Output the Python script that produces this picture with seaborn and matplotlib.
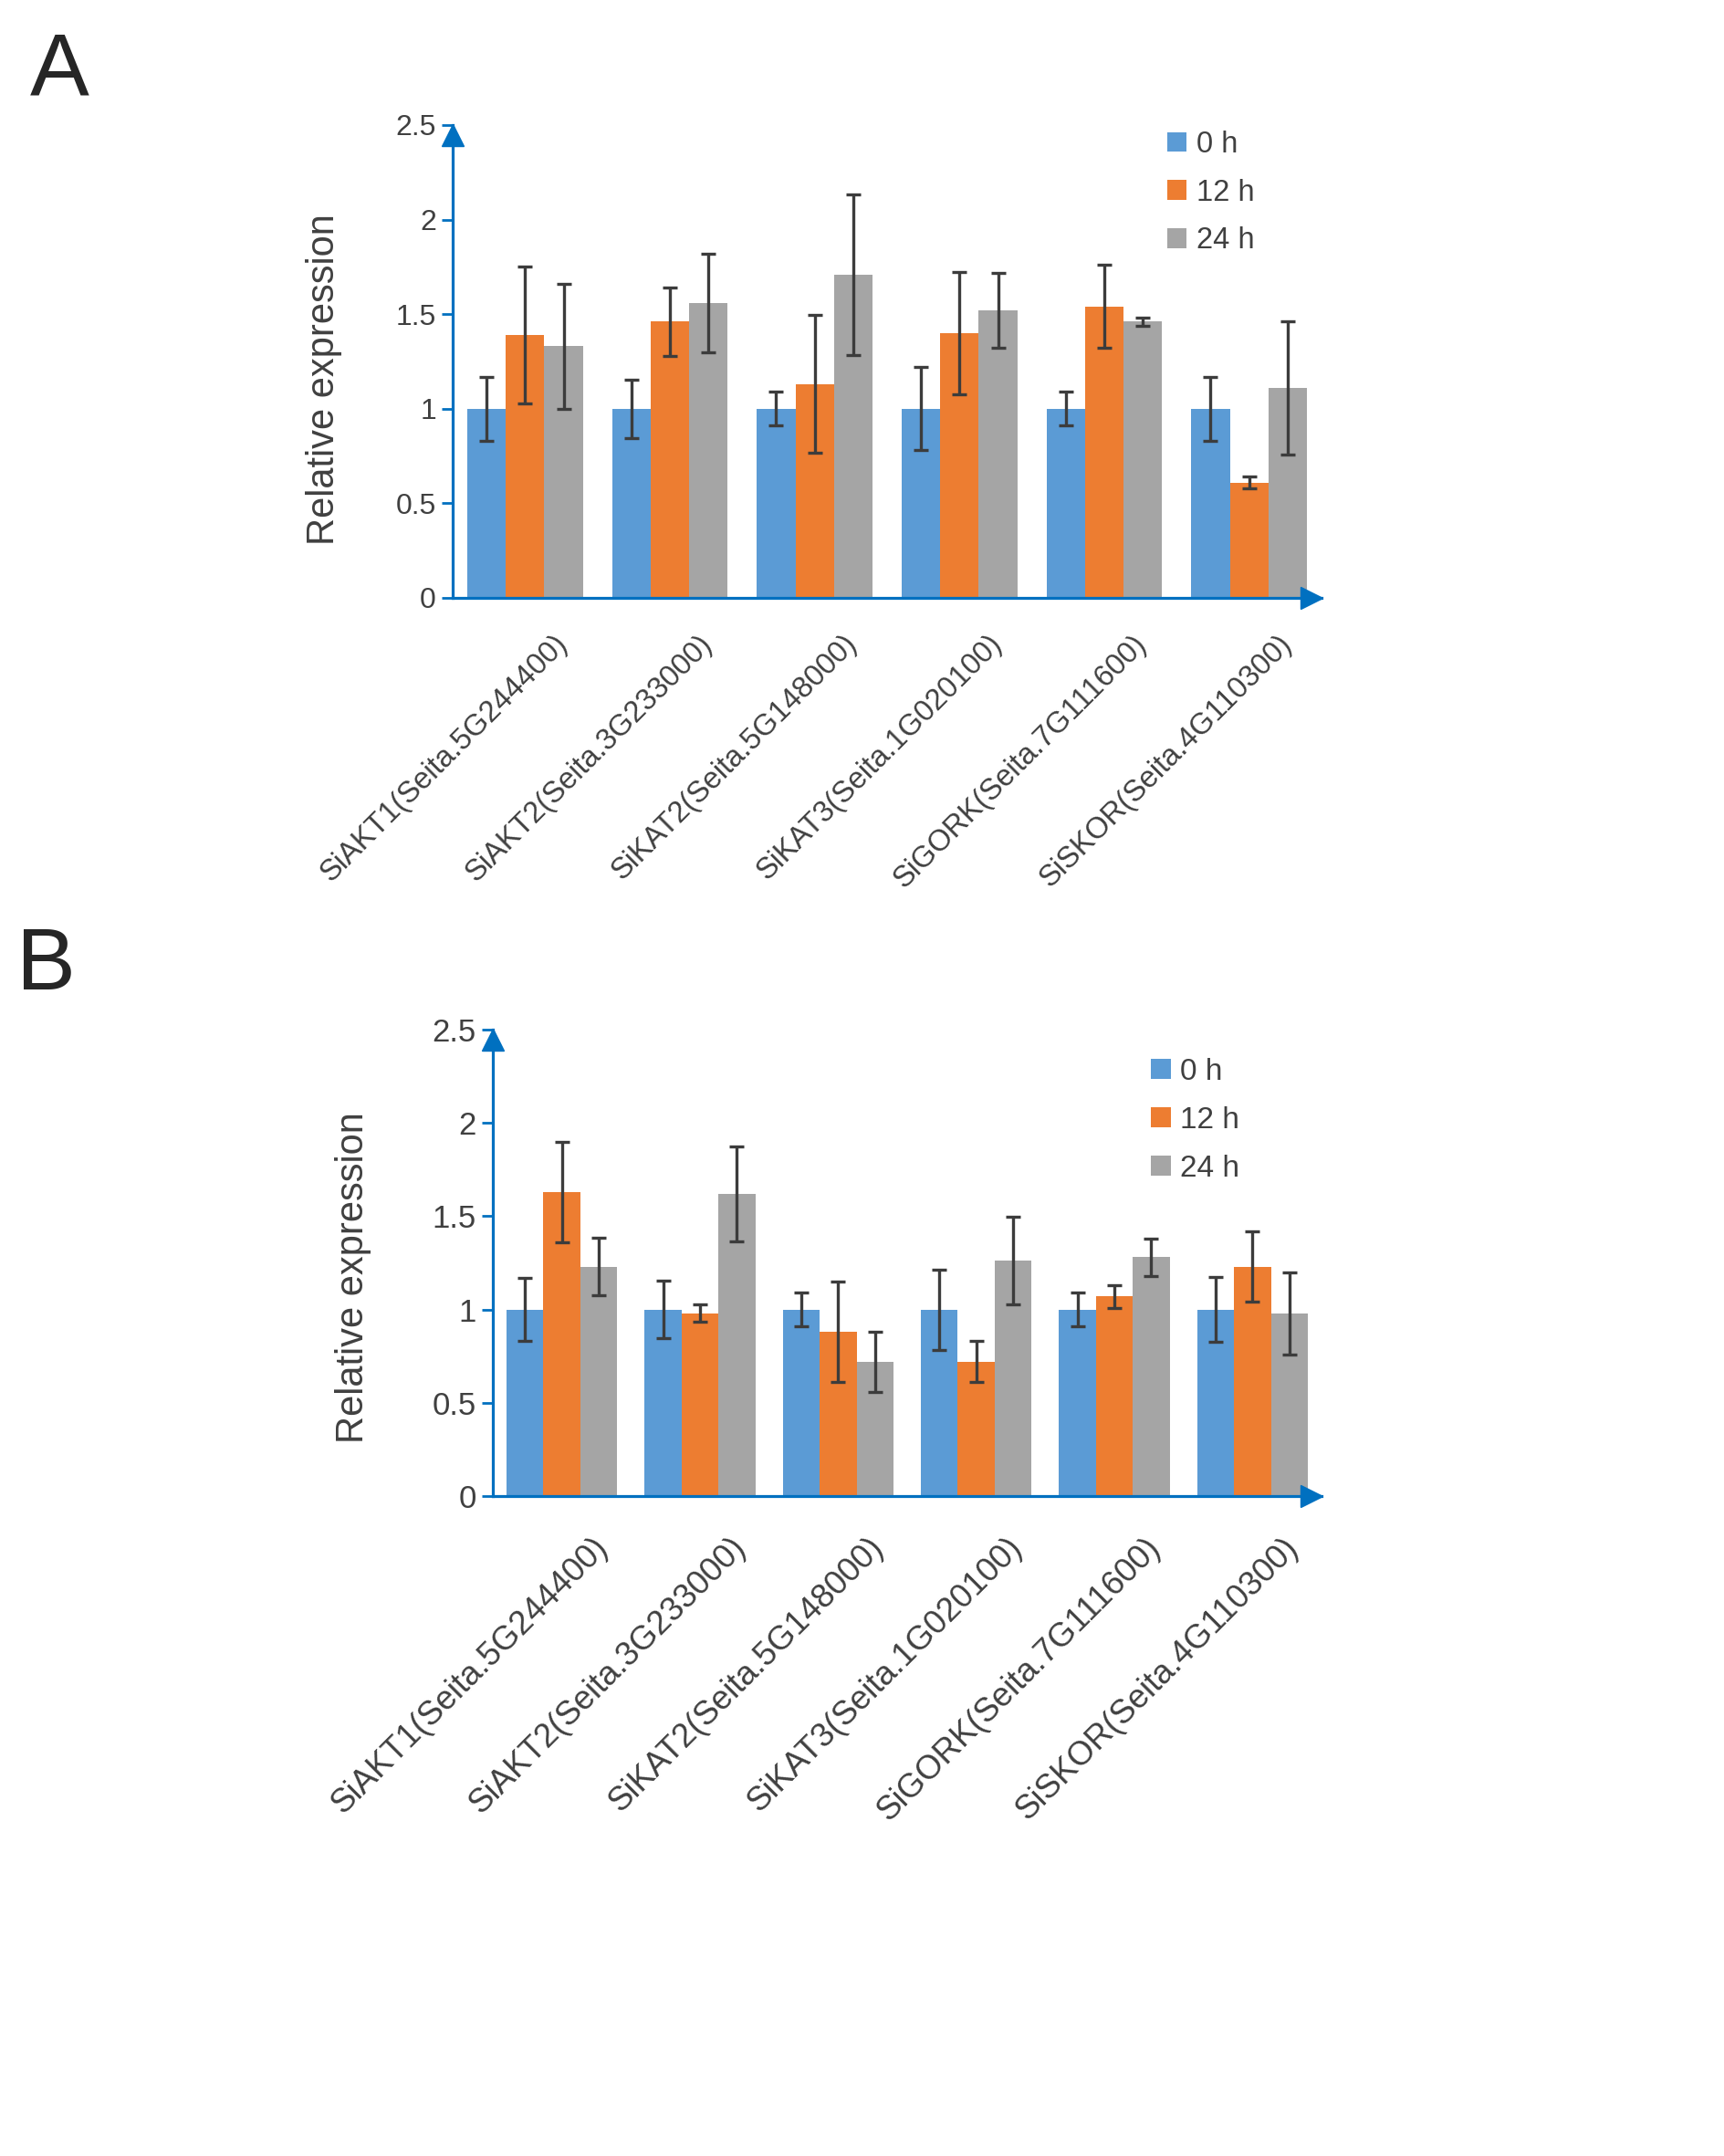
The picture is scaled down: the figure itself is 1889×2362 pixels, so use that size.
import pandas as pd
import seaborn as sns
import matplotlib.pyplot as plt
import matplotlib.transforms as mtransforms
from matplotlib.patches import Patch

sns.set_style("white")
plt.rcParams['font.family'] = ['Liberation Sans', 'DejaVu Sans']

# Data
genes = ["SiAKT1(Seita.5G244400)", "SiAKT2(Seita.3G233000)", "SiKAT2(Seita.5G148000)",
         "SiKAT3(Seita.1G020100)", "SiGORK(Seita.7G111600)", "SiSKOR(Seita.4G110300)"]
times = ["0 h", "12 h", "24 h"]
colors = ["#5B9BD5", "#ED7D31", "#A5A5A5"]

# Panel A
a_0h = [1.0, 1.0, 1.0, 1.0, 1.0, 1.0]
a_12h = [1.39, 1.46, 1.13, 1.40, 1.54, 0.61]
a_24h = [1.33, 1.56, 1.71, 1.52, 1.46, 1.11]
a_err_0h = [0.17, 0.155, 0.09, 0.22, 0.09, 0.17]
a_err_12h = [0.36, 0.18, 0.365, 0.325, 0.22, 0.03]
a_err_24h = [0.33, 0.26, 0.425, 0.20, 0.02, 0.35]

# Panel B
b_0h = [1.0, 1.0, 1.0, 1.0, 1.0, 1.0]
b_12h = [1.63, 0.98, 0.88, 0.72, 1.07, 1.23]
b_24h = [1.23, 1.62, 0.72, 1.26, 1.28, 0.98]
b_err_0h = [0.17, 0.155, 0.09, 0.215, 0.09, 0.175]
b_err_12h = [0.27, 0.045, 0.27, 0.11, 0.06, 0.19]
b_err_24h = [0.155, 0.255, 0.16, 0.235, 0.10, 0.22]

axis_blue = "#0070C0"
text_col = "#404040"

fig = plt.figure(figsize=(18.9, 23.62), dpi=100)
W, H = 1890, 2362


def draw_panel(ax, series, errs, ytick_size, xtick_size, xpad, xshift, leg_size, leg_xy):
    df = pd.DataFrame({
        'gene': genes * 3,
        'time': [t for t in times for _ in genes],
        'value': [v for s in series for v in s],
    })
    sns.barplot(data=df, x='gene', y='value', hue='time', hue_order=times, palette=colors,
                errorbar=None, width=0.8, saturation=1, legend=False, ax=ax, linewidth=0)

    # error bars at the bar centres
    for cont, err in zip(ax.containers, errs):
        xs = [p.get_x() + p.get_width() / 2 for p in cont]
        ys = [p.get_height() for p in cont]
        ax.errorbar(xs, ys, yerr=err, fmt='none', ecolor='#3c3c3c', elinewidth=2.4,
                    capsize=6, capthick=2.4, zorder=5)

    ax.set_xlim(-0.5, 5.5)
    ax.set_ylim(0, 2.5)
    ax.set_yticks([0, 0.5, 1, 1.5, 2, 2.5])
    ax.set_yticklabels(['0', '0.5', '1', '1.5', '2', '2.5'])
    ax.set_xlabel('')
    ax.set_ylabel('')
    for s in ['top', 'right']:
        ax.spines[s].set_visible(False)
    for s in ['left', 'bottom']:
        ax.spines[s].set_color(axis_blue)
        ax.spines[s].set_linewidth(2.3)
    ax.tick_params(axis='y', direction='out', length=9, width=2, color=axis_blue,
                   labelcolor=text_col, labelsize=ytick_size, pad=4, left=True)
    ax.tick_params(axis='x', length=0, labelcolor=text_col, labelsize=xtick_size, pad=xpad)
    shift = mtransforms.ScaledTranslation(xshift / 100, 0, fig.dpi_scale_trans)
    for lab in ax.get_xticklabels():
        lab.set_rotation(45)
        lab.set_ha('right')
        lab.set_transform(lab.get_transform() + shift)

    # arrow heads at the axis ends
    up = mtransforms.ScaledTranslation(0, -0.11, fig.dpi_scale_trans)
    ax.plot([0], [1], marker='^', color=axis_blue, markersize=17, clip_on=False,
            transform=ax.transAxes + up, zorder=6)
    left = mtransforms.ScaledTranslation(-0.11, 0, fig.dpi_scale_trans)
    ax.plot([1], [0], marker='>', color=axis_blue, markersize=17, clip_on=False,
            transform=ax.transAxes + left, zorder=6)

    handles = [Patch(facecolor=c, edgecolor='none', label=t) for c, t in zip(colors, times)]
    leg = fig.legend(handles=handles, loc='upper left', bbox_to_anchor=leg_xy,
                     bbox_transform=fig.transFigure, frameon=False, fontsize=leg_size,
                     handlelength=0.65, handleheight=0.65, handletextpad=0.32,
                     labelspacing=0.66, borderpad=0, borderaxespad=0)
    for t in leg.get_texts():
        t.set_color(text_col)


ax_a = fig.add_axes([496 / W, 1 - 655 / H, (1448 - 496) / W, (655 - 137) / H])
draw_panel(ax_a, [a_0h, a_12h, a_24h], [a_err_0h, a_err_12h, a_err_24h],
           ytick_size=23, xtick_size=23.5, xpad=25, xshift=53, leg_size=23.5,
           leg_xy=(1279 / W, 1 - 143 / H))

ax_b = fig.add_axes([540 / W, 1 - 1639 / H, (1448 - 540) / W, (1639 - 1128) / H])
draw_panel(ax_b, [b_0h, b_12h, b_24h], [b_err_0h, b_err_12h, b_err_24h],
           ytick_size=25, xtick_size=26.3, xpad=28, xshift=57, leg_size=24,
           leg_xy=(1261 / W, 1 - 1159 / H))

fig.text(355 / W, 1 - 416 / H, 'Relative expression', rotation=90, ha='center', va='center',
         fontsize=30, color=text_col)
fig.text(387 / W, 1 - 1400 / H, 'Relative expression', rotation=90, ha='center', va='center',
         fontsize=30, color=text_col)

fig.text(33 / W, 1 - 103 / H, 'A', ha='left', va='baseline', fontsize=70, color='#262626')
fig.text(18 / W, 1 - 1084 / H, 'B', ha='left', va='baseline', fontsize=70, color='#262626')

fig.savefig('out.png', dpi=100, facecolor='white')
